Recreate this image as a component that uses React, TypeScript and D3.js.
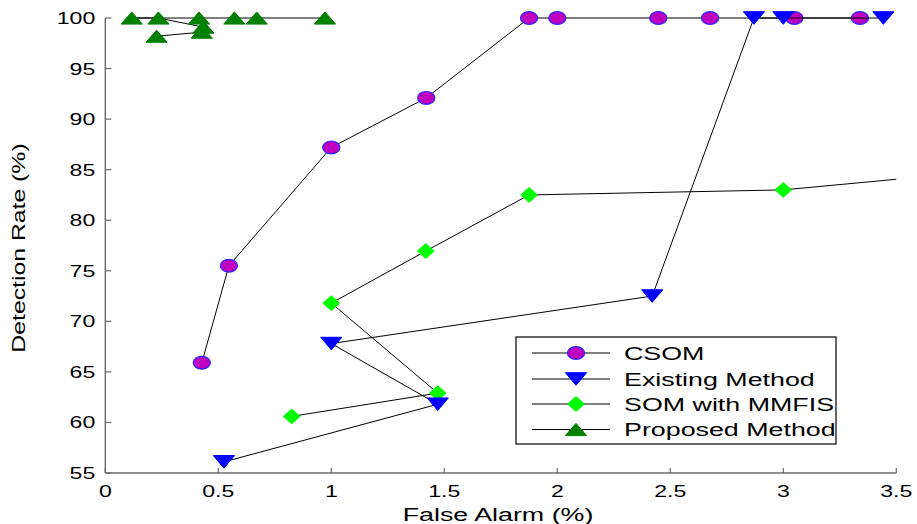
import React from "react";
import * as d3 from "d3";

// Detection rate vs. false alarm, four methods
const csomX = [0.427, 0.547, 1.0, 1.42, 1.875, 2.0, 2.447, 2.676, 3.049, 3.339];
const csomY = [65.9, 75.5, 87.2, 92.1, 100, 100, 100, 100, 100, 100];

const existingX = [0.525, 1.471, 1.0, 2.42, 2.87, 3.0, 3.443];
const existingY = [56.1, 61.8, 67.8, 72.5, 100, 100, 100];

const somX = [0.825, 1.471, 1.0, 1.418, 1.875, 3.0, 4.0];
const somY = [60.6, 62.9, 71.8, 76.95, 82.5, 83.0, 85.1];

const proposedX = [0.227, 0.427, 0.434, 0.235, 0.117, 0.415, 0.571, 0.67, 0.972];
const proposedY = [98.2, 98.6, 99.1, 100, 100, 100, 100, 100, 100];

const xTicks = [0, 0.5, 1, 1.5, 2, 2.5, 3, 3.5];
const xTickLabels = ["0", "0.5", "1", "1.5", "2", "2.5", "3", "3.5"];
const yTicks = [55, 60, 65, 70, 75, 80, 85, 90, 95, 100];

const legendLabels = ["CSOM", "Existing Method", "SOM with MMFIS", "Proposed Method"];

const W = 917;
const H = 524;
const FONT = "'Liberation Sans', Arial, Helvetica, sans-serif";
const AXIS = "#6a6a6a";

type MarkerKind = "circle" | "down" | "diamond" | "up";

function Marker({ kind, cx, cy }: { kind: MarkerKind; cx: number; cy: number }) {
  if (kind === "circle") {
    return <ellipse cx={cx} cy={cy} rx={8.6} ry={6.4} fill="#bf00bf" stroke="#2a2aff" strokeWidth={1.2} />;
  }
  if (kind === "down") {
    const w = 10.6, h = 6.3;
    return (
      <path
        d={`M${cx - w},${cy - h}L${cx + w},${cy - h}L${cx},${cy + h}Z`}
        fill="#0000ff"
        stroke="#0000ff"
        strokeWidth={1}
        strokeLinejoin="round"
      />
    );
  }
  if (kind === "diamond") {
    const w = 8.4, h = 7.4;
    return (
      <path
        d={`M${cx},${cy - h}L${cx + w},${cy}L${cx},${cy + h}L${cx - w},${cy}Z`}
        fill="#00ff00"
        stroke="#00ff00"
        strokeWidth={1}
      />
    );
  }
  const w = 10.6, h = 6.1;
  return (
    <path
      d={`M${cx - w},${cy + h}L${cx + w},${cy + h}L${cx},${cy - h}Z`}
      fill="#008000"
      stroke="#008000"
      strokeWidth={1}
      strokeLinejoin="round"
    />
  );
}

export default function App() {
  const x = d3.scaleLinear().domain([0, 3.5]).range([105.3, 896.3]);
  const y = d3.scaleLinear().domain([55, 100]).range([473, 18]);

  const line = d3
    .line<[number, number]>()
    .x((d) => x(d[0]))
    .y((d) => y(d[1]));

  const series: { xs: number[]; ys: number[]; kind: MarkerKind }[] = [
    { xs: csomX, ys: csomY, kind: "circle" },
    { xs: somX, ys: somY, kind: "diamond" },
    { xs: existingX, ys: existingY, kind: "down" },
    { xs: proposedX, ys: proposedY, kind: "up" },
  ];
  const legendKinds: MarkerKind[] = ["circle", "down", "diamond", "up"];

  const [x0, x1] = x.range();
  const [yb, yt] = y.range();

  const legend = { left: 516, top: 337, width: 320, height: 107 };
  const legendRows = [353, 379, 404, 429.5];

  return (
    <svg
      width={W}
      height={H}
      style={{ position: "absolute", left: 0, top: 0, background: "#fff" }}
      fontFamily={FONT}
    >
      <defs>
        <clipPath id="plot-clip">
          <rect x={x0} y={0} width={x1 - x0} height={H} />
        </clipPath>
      </defs>

      {/* axes */}
      <line x1={x0} x2={x0} y1={yt} y2={yb} stroke={AXIS} strokeWidth={1.4} />
      <line x1={x0} x2={x1} y1={yb} y2={yb} stroke={AXIS} strokeWidth={1.4} />
      {yTicks.map((t) => (
        <g key={`y${t}`}>
          <line x1={x0} x2={x0 + 6} y1={y(t)} y2={y(t)} stroke={AXIS} strokeWidth={1.2} />
          <text
            transform={`translate(${x0 - 10},${y(t) + 6}) scale(1.4,1)`}
            textAnchor="end"
            fontSize={16.5}
            fill="#000"
          >
            {t}
          </text>
        </g>
      ))}
      {xTicks.map((t, i) => (
        <g key={`x${t}`}>
          <line x1={x(t)} x2={x(t)} y1={yb} y2={yb - 5} stroke={AXIS} strokeWidth={1.2} />
          <text
            transform={`translate(${x(t)},${yb + 24}) scale(1.4,1)`}
            textAnchor="middle"
            fontSize={16.5}
            fill="#000"
          >
            {xTickLabels[i]}
          </text>
        </g>
      ))}

      <text
        transform={`translate(498,521) scale(1.45,1)`}
        textAnchor="middle"
        fontSize={18.5}
        fill="#000"
      >
        False Alarm (%)
      </text>
      <text
        transform={`translate(25,248) rotate(-90) scale(1.34,1)`}
        textAnchor="middle"
        fontSize={18.5}
        fill="#000"
      >
        Detection Rate (%)
      </text>

      {/* series: line first, then markers */}
      {series.map((s, si) => {
        const pts: [number, number][] = s.xs.map((v, i) => [v, s.ys[i]]);
        return (
          <g key={si}>
            <path d={line(pts) ?? ""} fill="none" stroke="#000" strokeWidth={1} clipPath="url(#plot-clip)" />
            {pts
              .filter((p) => p[0] <= 3.5)
              .map((p, i) => (
                <Marker key={i} kind={s.kind} cx={x(p[0])} cy={y(p[1])} />
              ))}
          </g>
        );
      })}

      {/* legend */}
      <rect
        x={legend.left}
        y={legend.top}
        width={legend.width}
        height={legend.height}
        fill="#fff"
        stroke="#000"
        strokeWidth={1.2}
      />
      {legendLabels.map((label, i) => (
        <g key={label}>
          <line x1={532} x2={610} y1={legendRows[i]} y2={legendRows[i]} stroke="#000" strokeWidth={1} />
          <Marker kind={legendKinds[i]} cx={576} cy={legendRows[i]} />
          <text
            transform={`translate(624,${legendRows[i] + 6.7}) scale(1.45,1)`}
            fontSize={18.5}
            fill="#000"
          >
            {label}
          </text>
        </g>
      ))}
    </svg>
  );
}
